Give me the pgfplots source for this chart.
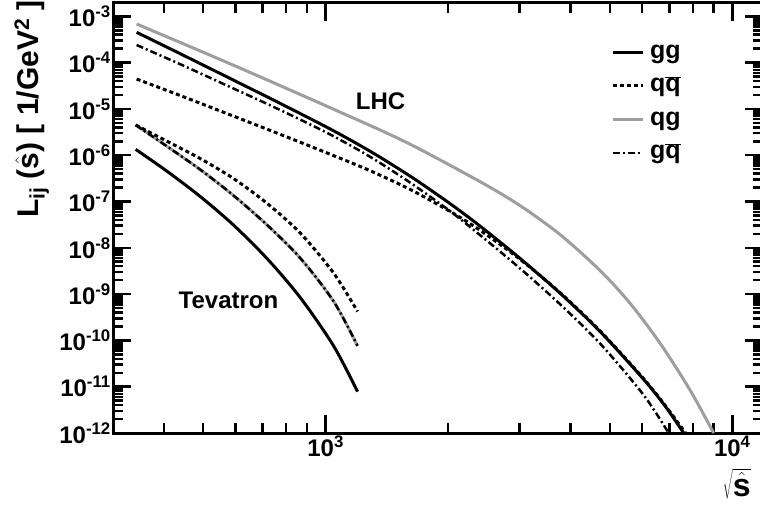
\documentclass[border=0pt]{standalone}
\usepackage{pgfplots}
\pgfplotsset{compat=1.18}
\usepackage{fontspec}
\setmainfont{Liberation Sans}
\definecolor{lgray}{RGB}{158,158,158}
\pgfplotsset{
  ggstyle/.style={black, line width=3pt},
  qqstyle/.style={black, line width=3pt, dash pattern=on 4pt off 3pt},
  qgstyle/.style={lgray, line width=3pt},
  gqstyle/.style={black, line width=2.5pt, dash pattern=on 7pt off 3pt on 2pt off 3pt},
}
\begin{document}
\begin{tikzpicture}
\begin{axis}[
  at={(113pt,75pt)}, anchor=south west,
  scale only axis, width=650pt, height=430pt,
  xmode=log, ymode=log,
  xmin=300, xmax=11900, ymin=1e-12, ymax=1.94e-3,
  axis line style={line width=3pt},
  tick style={line width=2.5pt, black},
  major tick length=18pt, minor tick length=10pt,
  tick align=inside,
  xtick={1000,10000},
  xticklabels={10\textsuperscript{3},10\textsuperscript{4}},
  minor xtick={400,500,600,700,800,900,2000,3000,4000,5000,6000,7000,8000,9000},
  ytick={1e-12,1e-11,1e-10,1e-9,1e-8,1e-7,1e-6,1e-5,1e-4,1e-3},
  yticklabels={10\textsuperscript{-12},10\textsuperscript{-11},10\textsuperscript{-10},10\textsuperscript{-9},10\textsuperscript{-8},10\textsuperscript{-7},10\textsuperscript{-6},10\textsuperscript{-5},10\textsuperscript{-4},10\textsuperscript{-3}},
  minor ytick={2e-12,3e-12,4e-12,5e-12,6e-12,7e-12,8e-12,9e-12,
               2e-11,3e-11,4e-11,5e-11,6e-11,7e-11,8e-11,9e-11,
               2e-10,3e-10,4e-10,5e-10,6e-10,7e-10,8e-10,9e-10,
               2e-9,3e-9,4e-9,5e-9,6e-9,7e-9,8e-9,9e-9,
               2e-8,3e-8,4e-8,5e-8,6e-8,7e-8,8e-8,9e-8,
               2e-7,3e-7,4e-7,5e-7,6e-7,7e-7,8e-7,9e-7,
               2e-6,3e-6,4e-6,5e-6,6e-6,7e-6,8e-6,9e-6,
               2e-5,3e-5,4e-5,5e-5,6e-5,7e-5,8e-5,9e-5,
               2e-4,3e-4,4e-4,5e-4,6e-4,7e-4,8e-4,9e-4},
  ticklabel style={font=\fontsize{24}{24}\selectfont\bfseries},
  yticklabel style={inner sep=2pt},
  xticklabel style={inner sep=3pt},
  ylabel={L\textsubscript{ij} ($\hat{\mbox{s}}$) [ 1/GeV\textsuperscript{2} ]},
  ylabel style={at={(axis description cs:-0.098,1.007)}, anchor=south east, inner sep=0pt, font=\fontsize{30}{30}\selectfont\bfseries},
  xlabel={$\sqrt{\hat{\mbox{s}}}$},
  xlabel style={at={(axis description cs:0.938,-0.082)}, anchor=north west, inner sep=0pt, font=\fontsize{32}{32}\selectfont\bfseries},
  legend style={draw=none, fill=none, inner sep=0pt, at={(axis description cs:0.766,0.918)}, anchor=north west,
    font=\fontsize{25}{25}\selectfont\bfseries, row sep=5.5pt, column sep=4pt,
    nodes={text height=18pt, text depth=6pt, inner sep=2pt}},
  legend cell align=left,
  legend image code/.code={\draw[#1] (0pt,0pt) -- (30pt,0pt);},
]
% Tevatron
\addplot[qgstyle, smooth, forget plot] coordinates {
(341.1,4.49e-6) (408.8,1.52e-6) (492.8,4.81e-7) (594.0,1.34e-7) (720.2,3.03e-8) (868.0,5.87e-9) (1046.4,6.95e-10) (1198,7.64e-11)};
\addplot[gqstyle, smooth, forget plot] coordinates {
(341.1,4.49e-6) (408.8,1.52e-6) (492.8,4.81e-7) (594.0,1.34e-7) (720.2,3.03e-8) (868.0,5.87e-9) (1046.4,6.95e-10) (1198,7.64e-11)};
\addplot[qqstyle, smooth, forget plot] coordinates {
(341.1,4.49e-6) (408.8,1.97e-6) (492.8,8.36e-7) (594.0,3.12e-7) (720.2,8.92e-8) (868.0,2.04e-8) (1046.4,2.84e-9) (1198,4.21e-10)};
\addplot[ggstyle, smooth, forget plot] coordinates {
(341.1,1.34e-6) (408.8,4.40e-7) (492.8,1.26e-7) (594.0,3.08e-8) (720.2,5.67e-9) (868.0,8.20e-10) (1046.4,7.57e-11) (1198,7.84e-12)};
% LHC
\addplot[ggstyle, smooth] coordinates {
(343.0,4.51e-4) (440.0,1.54e-4) (584.1,4.49e-5) (775.2,1.30e-5) (1028.7,3.64e-6) (1290,1.20e-6) (1618,3.48e-7) (2029,8.83e-8) (2405,2.88e-8) (3017,5.76e-9) (3783,1.02e-9) (4745,1.51e-10) (6053,1.44e-11) (6855,3.70e-12) (7593,1.0e-12)};
\addlegendentry{gg}
\addplot[qqstyle, smooth] coordinates {
(343.0,4.42e-5) (440.0,1.93e-5) (584.1,7.38e-6) (775.2,2.80e-6) (1028.7,1.04e-6) (1290,4.58e-7) (1618,1.80e-7) (2029,6.02e-8) (2405,2.35e-8) (3017,5.51e-9) (3783,1.05e-9) (4745,1.56e-10) (6053,1.49e-11) (6855,3.83e-12) (7677,1.0e-12)};
\addlegendentry{q$\overline{\mbox{q}}$}
\addplot[qgstyle, smooth] coordinates {
(343.0,6.82e-4) (584.1,9.33e-5) (1028.7,1.05e-5) (1573,1.93e-6) (2405,2.64e-7) (3017,8.00e-8) (3783,1.89e-8) (4745,3.15e-9) (5623,6.11e-10) (6663,8.36e-11) (7898,8.07e-12) (8995,1.0e-12)};
\addlegendentry{qg}
\addplot[gqstyle, smooth] coordinates {
(343.0,2.40e-4) (440.0,9.14e-5) (584.1,2.94e-5) (775.2,9.37e-6) (1028.7,2.77e-6) (1290,9.10e-7) (1618,2.52e-7) (2029,6.08e-8) (2405,1.84e-8) (3017,3.50e-9) (3783,5.90e-10) (4745,8.32e-11) (6053,6.62e-12) (6973,1.0e-12)};
\addlegendentry{g$\overline{\mbox{q}}$}
\node[font=\fontsize{24}{24}\selectfont\bfseries] at (axis cs:1365,1.48e-5) {LHC};
\node[font=\fontsize{24}{24}\selectfont\bfseries] at (axis cs:577,7.46e-10) {Tevatron};
\end{axis}
\pgfresetboundingbox
\useasboundingbox (0,0) rectangle (760pt,508pt);
\end{tikzpicture}
\end{document}
